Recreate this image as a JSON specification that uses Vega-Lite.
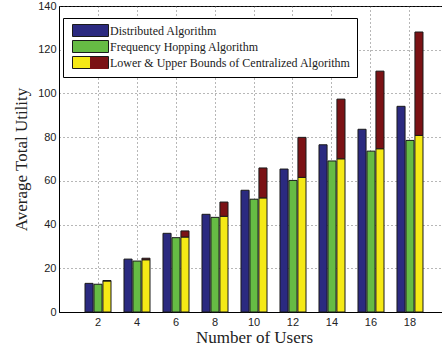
{
  "$schema": "https://vega.github.io/schema/vega-lite/v6.json",
  "width": 390,
  "height": 306,
  "autosize": {"type": "none"},
  "padding": {"left": 59, "top": 6, "right": -7, "bottom": 40},
  "background": "white",
  "config": {
    "view": {"stroke": "#000", "strokeWidth": 1},
    "axis": {
      "domainColor": "#000",
      "grid": true,
      "gridColor": "#555",
      "gridDash": [1, 3],
      "gridOpacity": 0.85,
      "ticks": false,
      "labelFont": "Liberation Sans",
      "labelFontSize": 11,
      "labelColor": "#222",
      "titleFont": "Liberation Serif",
      "titleFontSize": 17,
      "titleFontWeight": "normal",
      "titleColor": "#222"
    },
    "legend": {
      "labelFont": "Liberation Serif",
      "labelFontSize": 12,
      "labelLimit": 400
    }
  },
  "resolve": {"scale": {"color": "independent"}, "legend": {"color": "independent"}},
  "data": {
    "values": [
      {"users": 2, "alg": "Distributed Algorithm", "value": 13.1},
      {"users": 2, "alg": "Frequency Hopping Algorithm", "value": 12.7},
      {"users": 2, "alg": "Lower & Upper Bounds of Centralized Algorithm", "value": 14.2, "upper": 14.4},
      {"users": 4, "alg": "Distributed Algorithm", "value": 24.2},
      {"users": 4, "alg": "Frequency Hopping Algorithm", "value": 23.3},
      {"users": 4, "alg": "Lower & Upper Bounds of Centralized Algorithm", "value": 23.9, "upper": 24.6},
      {"users": 6, "alg": "Distributed Algorithm", "value": 36.0},
      {"users": 6, "alg": "Frequency Hopping Algorithm", "value": 34.0},
      {"users": 6, "alg": "Lower & Upper Bounds of Centralized Algorithm", "value": 34.3, "upper": 37.1},
      {"users": 8, "alg": "Distributed Algorithm", "value": 44.7},
      {"users": 8, "alg": "Frequency Hopping Algorithm", "value": 43.3},
      {"users": 8, "alg": "Lower & Upper Bounds of Centralized Algorithm", "value": 43.8, "upper": 50.3},
      {"users": 10, "alg": "Distributed Algorithm", "value": 55.7},
      {"users": 10, "alg": "Frequency Hopping Algorithm", "value": 51.6},
      {"users": 10, "alg": "Lower & Upper Bounds of Centralized Algorithm", "value": 52.2, "upper": 65.9},
      {"users": 12, "alg": "Distributed Algorithm", "value": 65.4},
      {"users": 12, "alg": "Frequency Hopping Algorithm", "value": 60.2},
      {"users": 12, "alg": "Lower & Upper Bounds of Centralized Algorithm", "value": 61.6, "upper": 79.9},
      {"users": 14, "alg": "Distributed Algorithm", "value": 76.5},
      {"users": 14, "alg": "Frequency Hopping Algorithm", "value": 69.1},
      {"users": 14, "alg": "Lower & Upper Bounds of Centralized Algorithm", "value": 70.1, "upper": 97.4},
      {"users": 16, "alg": "Distributed Algorithm", "value": 83.6},
      {"users": 16, "alg": "Frequency Hopping Algorithm", "value": 73.6},
      {"users": 16, "alg": "Lower & Upper Bounds of Centralized Algorithm", "value": 74.7, "upper": 110.2},
      {"users": 18, "alg": "Distributed Algorithm", "value": 94.1},
      {"users": 18, "alg": "Frequency Hopping Algorithm", "value": 78.5},
      {"users": 18, "alg": "Lower & Upper Bounds of Centralized Algorithm", "value": 80.8, "upper": 128.1}
    ]
  },
  "encoding": {
    "x": {
      "field": "users",
      "type": "ordinal",
      "sort": "ascending",
      "scale": {"paddingInner": 0.333, "paddingOuter": 0.6667},
      "axis": {"title": "Number of Users", "labelAngle": 0, "labelPadding": 4, "titlePadding": 2, "bandPosition": 0.5}
    },
    "xOffset": {
      "field": "alg",
      "type": "nominal",
      "scale": {"domain": ["Distributed Algorithm", "Frequency Hopping Algorithm", "Lower & Upper Bounds of Centralized Algorithm"], "paddingInner": 0.1}
    }
  },
  "layer": [
    {
      "mark": {"type": "bar", "stroke": "#1a1a1a", "strokeWidth": 1},
      "encoding": {
        "y": {
          "field": "value",
          "type": "quantitative",
          "stack": null,
          "scale": {"domain": [0, 140], "nice": false},
          "axis": {"values": [0, 20, 40, 60, 80, 100, 120, 140], "title": "Average Total Utility", "labelPadding": 3, "titlePadding": 7}
        },
        "color": {
          "field": "alg",
          "type": "nominal",
          "scale": {
            "domain": ["Distributed Algorithm", "Frequency Hopping Algorithm", "Lower & Upper Bounds of Centralized Algorithm"],
            "range": ["#2b2a80", "#66bb44", "#f5e916"]
          },
          "legend": {
            "title": null,
            "orient": "none",
            "legendX": 4,
            "legendY": 12,
            "padding": 6,
            "strokeColor": "#000",
            "fillColor": "#fff",
            "symbolType": "M-3,-1H3V1H-3Z",
            "symbolSize": 144,
            "symbolOffset": 15,
            "symbolStrokeColor": "#1a1a1a",
            "symbolStrokeWidth": 1,
            "symbolOpacity": 1,
            "labelOffset": 13,
            "labelFont": "Liberation Serif",
            "labelFontSize": 12,
            "labelColor": "#1a1a1a",
            "labelLimit": 400,
            "rowPadding": -1
          }
        }
      }
    },
    {
      "transform": [{"filter": "isValid(datum.upper)"}],
      "mark": {"type": "bar", "stroke": "#1a1a1a", "strokeWidth": 1},
      "encoding": {
        "y": {"field": "value", "type": "quantitative", "stack": null},
        "y2": {"field": "upper"},
        "color": {
          "field": "alg",
          "type": "nominal",
          "scale": {
            "domain": ["Distributed Algorithm", "Frequency Hopping Algorithm", "Lower & Upper Bounds of Centralized Algorithm"],
            "range": ["transparent", "transparent", "#7b1215"]
          },
          "legend": {
            "title": null,
            "orient": "none",
            "legendX": 4,
            "legendY": 12,
            "padding": 6,
            "symbolType": "M0,-1H3V1H0Z",
            "symbolSize": 144,
            "symbolOffset": 15,
            "symbolStrokeWidth": 0,
            "symbolOpacity": 1,
            "labelExpr": "''",
            "labelOffset": 0,
            "rowPadding": 4.5
          }
        }
      }
    }
  ]
}
